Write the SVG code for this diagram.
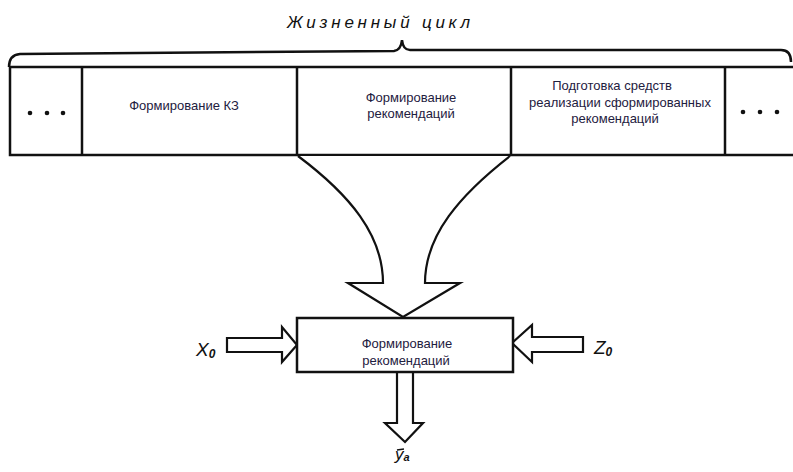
<svg xmlns="http://www.w3.org/2000/svg" width="793" height="472" viewBox="0 0 793 472">
<style>
.ln{fill:none;stroke:#111;stroke-width:2.5;stroke-linejoin:miter}
.box{fill:#fff;stroke:#111;stroke-width:2.5}
.arr{fill:#fff;stroke:#111;stroke-width:2.2;stroke-linejoin:miter}
.lbl{font-family:"Liberation Sans",Arial,sans-serif;font-size:13px;fill:#1e2040;text-anchor:middle}
.hand{font-family:"Liberation Sans",Arial,sans-serif;font-style:italic;fill:#111}
.dot{fill:#111}
</style>
<rect width="793" height="472" fill="#fff"/>
<g id="title">
<text class="hand" x="287" y="28" font-size="17" textLength="183" lengthAdjust="spacing">Жизненный цикл</text>
<path class="ln" d="M9,67 Q9,55 20,54 L394,51 Q401,50 402,40 Q403,50 410,50 L781,50 Q791,50 791,62" stroke-width="2"/>
</g>
<g id="lifecycle">
<rect class="box" x="10" y="67" width="800" height="88"/>
<line class="ln" x1="82" y1="67" x2="82" y2="155"/>
<line class="ln" x1="297" y1="67" x2="297" y2="155"/>
<line class="ln" x1="511" y1="67" x2="511" y2="155"/>
<line class="ln" x1="725" y1="67" x2="725" y2="155"/>
</g>
<g id="cell-dots-left">
<circle class="dot" cx="30" cy="113" r="2.3"/>
<circle class="dot" cx="47" cy="113" r="2.3"/>
<circle class="dot" cx="63" cy="113" r="2.3"/>
</g>
<g id="cell-kz">
<text class="lbl" x="184" y="109.5">Формирование КЗ</text>
</g>
<g id="cell-rec">
<text class="lbl" x="411" y="101.5">Формирование</text>
<text class="lbl" x="411" y="118">рекомендаций</text>
</g>
<g id="cell-prep">
<text class="lbl" x="612" y="89.5">Подготовка средств</text>
<text class="lbl" x="620" y="106.5">реализации сформированных</text>
<text class="lbl" x="615" y="123">рекомендаций</text>
</g>
<g id="cell-dots-right">
<circle class="dot" cx="743" cy="112" r="2.3"/>
<circle class="dot" cx="760" cy="112" r="2.3"/>
<circle class="dot" cx="777" cy="112" r="2.3"/>
</g>
<g id="connectors">
<path class="arr" d="M298,156 C350,195 383,235 383,283 L348,283 L403,317 L460,283 L425,283 C425,235 460,195 510,156"/>
<path class="arr" d="M227,338 L282,338 L282,327 L297,345 L282,362 L282,352 L227,352 Z"/>
<path class="arr" d="M583,337 L532,337 L532,325 L512,343 L532,362 L532,352 L583,352 Z"/>
<path class="arr" d="M397,373 L397,423 L385,423 L405,442 L423,423 L413,423 L413,373"/>
</g>
<g id="node-rec">
<rect class="box" x="297" y="318" width="216" height="54"/>
<text class="lbl" x="407" y="347.5">Формирование</text>
<text class="lbl" x="406" y="365">рекомендаций</text>
</g>
<g id="label-x0">
<text class="hand" x="196" y="356" font-size="19">X<tspan font-size="12" font-weight="bold" dy="2">0</tspan></text>
</g>
<g id="label-z0">
<text class="hand" x="594" y="354" font-size="19">Z<tspan font-size="12" font-weight="bold" dy="2">0</tspan></text>
</g>
<g id="label-y0">
<text class="hand" x="395" y="460" font-size="17">y<tspan font-size="11" font-weight="bold" dy="1">a</tspan></text>
<line x1="397" y1="450" x2="404" y2="449" stroke="#111" stroke-width="1.5"/>
</g>
</svg>
